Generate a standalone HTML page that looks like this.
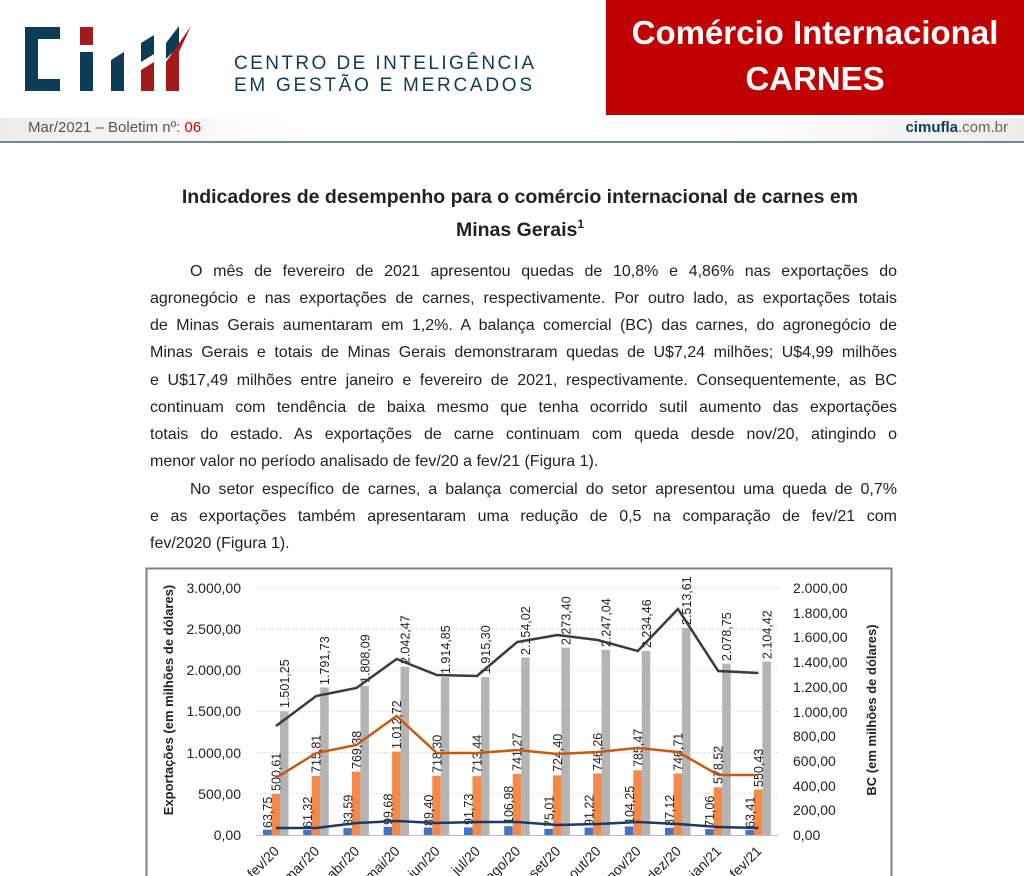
<!DOCTYPE html>
<html><head><meta charset="utf-8"><style>
body{margin:0;width:1024px;height:876px;overflow:hidden;background:#fff;position:relative;font-family:"Liberation Sans",sans-serif;}
.abs{position:absolute;}
.p{position:absolute;left:150px;width:747px;font-size:16px;color:#222;text-align:justify;text-align-last:justify;white-space:nowrap;line-height:20px;}
.last{text-align-last:left;}
</style></head><body>
<div class="abs" style="left:606px;top:0;width:418px;height:115px;background:#c00000;"></div>
<div class="abs" style="left:606px;top:10px;width:418px;text-align:center;color:#fff;font-weight:bold;font-size:33px;line-height:46px;">Comércio Internacional<br>CARNES</div>
<div class="abs" style="left:0;top:118px;width:1024px;height:23px;background:linear-gradient(90deg,#ececec,#fff 30%,#fff 70%,#ececec);"></div>
<div class="abs" style="left:0;top:141px;width:1024px;height:2px;background:#6b8a99;"></div>
<div class="abs" style="left:28px;top:119px;font-size:15px;color:#555;">Mar/2021 – Boletim nº: <span style="color:#e00000">06</span></div>
<div class="abs" style="right:16px;top:119px;font-size:15px;color:#666;"><b style="color:#0d3d56">cimufla</b>.com.br</div>
<svg class="abs" style="left:0;top:0" width="600" height="115">
<path d="M25 27h35v12h-22v40h22v12h-35z" fill="#0d3d56"/>
<rect x="80" y="27" width="13" height="18" fill="#a31a1c"/>
<rect x="80" y="52" width="13" height="39" fill="#0d3d56"/>
<path d="M111 60l13-8v39h-13z" fill="#0d3d56"/>
<path d="M141 43l13-8v19l-13 8z" fill="#0d3d56"/>
<path d="M141 70l13-8v29h-13z" fill="#a31a1c"/>
<path d="M166 43l13-17v20l-13 13z" fill="#0d3d56"/>
<path d="M166 62l25-36l-12 26v39h-13z" fill="#a31a1c"/>
<text x="234" y="69" font-size="19" fill="#0d3d56" textLength="300">CENTRO DE INTELIGÊNCIA</text>
<text x="234" y="91" font-size="19" fill="#0d3d56" textLength="298">EM GESTÃO E MERCADOS</text>
</svg>
<div class="abs" style="left:0;width:1040px;top:181px;text-align:center;font-weight:bold;font-size:19.5px;line-height:33px;color:#222;">Indicadores de desempenho para o comércio internacional de carnes em<br>Minas Gerais<span style="font-size:12px;position:relative;top:-8px;">1</span></div>
<div class="p" style="top:262px;padding-left:40px;width:707px;">O mês de fevereiro de 2021 apresentou quedas de 10,8% e 4,86% nas exportações do</div>
<div class="p" style="top:289px;">agronegócio e nas exportações de carnes, respectivamente. Por outro lado, as exportações totais</div>
<div class="p" style="top:316px;">de Minas Gerais aumentaram em 1,2%. A balança comercial (BC) das carnes, do agronegócio de</div>
<div class="p" style="top:343px;">Minas Gerais e totais de Minas Gerais demonstraram quedas de U$7,24 milhões; U$4,99 milhões</div>
<div class="p" style="top:371px;">e U$17,49 milhões entre janeiro e fevereiro de 2021, respectivamente. Consequentemente, as BC</div>
<div class="p" style="top:398px;">continuam com tendência de baixa mesmo que tenha ocorrido sutil aumento das exportações</div>
<div class="p" style="top:425px;">totais do estado. As exportações de carne continuam com queda desde nov/20, atingindo o</div>
<div class="p last" style="top:452px;">menor valor no período analisado de fev/20 a fev/21 (Figura 1).</div>
<div class="p" style="top:480px;padding-left:40px;width:707px;">No setor específico de carnes, a balança comercial do setor apresentou uma queda de 0,7%</div>
<div class="p" style="top:507px;">e as exportações também apresentaram uma redução de 0,5 na comparação de fev/21 com</div>
<div class="p last" style="top:534px;">fev/2020 (Figura 1).</div>
<svg class="abs" style="left:0;top:0" width="1024" height="876" font-family="Liberation Sans, sans-serif">
<rect x="146.5" y="568.5" width="745" height="320" fill="none" stroke="#808080" stroke-width="2"/>
<g stroke="#d9d9d9" stroke-dasharray="2,2"><line x1="256" x2="778" y1="793.8" y2="793.8"/><line x1="256" x2="778" y1="752.6" y2="752.6"/><line x1="256" x2="778" y1="711.4" y2="711.4"/><line x1="256" x2="778" y1="670.2" y2="670.2"/><line x1="256" x2="778" y1="629" y2="629"/><line x1="256" x2="778" y1="587.8" y2="587.8"/></g>
<line x1="256" x2="778" y1="835.5" y2="835.5" stroke="#bfbfbf"/>
<g font-size="14" fill="#222" text-anchor="end"><text x="241" y="840">0,00</text><text x="241" y="799">500,00</text><text x="241" y="758">1.000,00</text><text x="241" y="716">1.500,00</text><text x="241" y="675">2.000,00</text><text x="241" y="634">2.500,00</text><text x="241" y="593">3.000,00</text></g>
<g font-size="14" fill="#222"><text x="793" y="840">0,00</text><text x="793" y="815">200,00</text><text x="793" y="791">400,00</text><text x="793" y="766">600,00</text><text x="793" y="741">800,00</text><text x="793" y="717">1.000,00</text><text x="793" y="692">1.200,00</text><text x="793" y="667">1.400,00</text><text x="793" y="642">1.600,00</text><text x="793" y="618">1.800,00</text><text x="793" y="593">2.000,00</text></g>
<text transform="translate(173,700) rotate(-90)" text-anchor="middle" font-size="13" font-weight="bold" fill="#222">Exportações (em milhões de dólares)</text>
<text transform="translate(876,710) rotate(-90)" text-anchor="middle" font-size="13" font-weight="bold" fill="#222">BC (em milhões de dólares)</text>
<g fill="#4472c4">
<rect x="263" y="829.7" width="8.5" height="5.3"/><rect x="303.2" y="829.9" width="8.5" height="5.1"/><rect x="343.4" y="828.1" width="8.5" height="6.9"/><rect x="383.6" y="826.8" width="8.5" height="8.2"/><rect x="423.8" y="827.6" width="8.5" height="7.4"/><rect x="464" y="827.4" width="8.5" height="7.6"/><rect x="504.2" y="826.2" width="8.5" height="8.8"/><rect x="544.4" y="828.8" width="8.5" height="6.2"/><rect x="584.6" y="827.5" width="8.5" height="7.5"/><rect x="624.8" y="826.4" width="8.5" height="8.6"/><rect x="665" y="827.8" width="8.5" height="7.2"/><rect x="705.2" y="829.1" width="8.5" height="5.9"/><rect x="745.4" y="829.8" width="8.5" height="5.2"/></g>
<g fill="#f4894a">
<rect x="271.5" y="793.8" width="8.5" height="41.2"/><rect x="311.7" y="776" width="8.5" height="59"/><rect x="351.9" y="771.6" width="8.5" height="63.4"/><rect x="392.1" y="751.6" width="8.5" height="83.4"/><rect x="432.3" y="775.8" width="8.5" height="59.2"/><rect x="472.5" y="776.2" width="8.5" height="58.8"/><rect x="512.7" y="773.9" width="8.5" height="61.1"/><rect x="552.9" y="775.3" width="8.5" height="59.7"/><rect x="593.1" y="773.5" width="8.5" height="61.5"/><rect x="633.3" y="770.3" width="8.5" height="64.7"/><rect x="673.5" y="773.5" width="8.5" height="61.5"/><rect x="713.7" y="787.3" width="8.5" height="47.7"/><rect x="753.9" y="789.6" width="8.5" height="45.4"/></g>
<g fill="#b4b4b4">
<rect x="280" y="711.3" width="8.5" height="123.7"/><rect x="320.2" y="687.4" width="8.5" height="147.6"/><rect x="360.4" y="686" width="8.5" height="149"/><rect x="400.6" y="666.7" width="8.5" height="168.3"/><rect x="440.8" y="677.2" width="8.5" height="157.8"/><rect x="481" y="677.2" width="8.5" height="157.8"/><rect x="521.2" y="657.5" width="8.5" height="177.5"/><rect x="561.4" y="647.7" width="8.5" height="187.3"/><rect x="601.6" y="649.8" width="8.5" height="185.2"/><rect x="641.8" y="650.9" width="8.5" height="184.1"/><rect x="682" y="627.9" width="8.5" height="207.1"/><rect x="722.2" y="663.7" width="8.5" height="171.3"/><rect x="762.4" y="661.6" width="8.5" height="173.4"/></g>
<g font-size="12.5" fill="#222">
<text transform="translate(272,828) rotate(-90)">63,75</text><text transform="translate(312.2,828) rotate(-90)">61,32</text><text transform="translate(352.4,826) rotate(-90)">83,59</text><text transform="translate(392.6,825) rotate(-90)">99,68</text><text transform="translate(432.8,826) rotate(-90)">89,40</text><text transform="translate(473,825) rotate(-90)">91,73</text><text transform="translate(513.2,824) rotate(-90)">106,98</text><text transform="translate(553.4,827) rotate(-90)">75,01</text><text transform="translate(593.6,826) rotate(-90)">91,22</text><text transform="translate(633.8,824) rotate(-90)">104,25</text><text transform="translate(674,826) rotate(-90)">87,12</text><text transform="translate(714.2,827) rotate(-90)">71,06</text><text transform="translate(754.4,828) rotate(-90)">63,41</text>
<text transform="translate(280.5,791) rotate(-90)">500,61</text><text transform="translate(320.7,773) rotate(-90)">715,81</text><text transform="translate(360.9,769) rotate(-90)">769,38</text><text transform="translate(401.1,749) rotate(-90)">1.012,72</text><text transform="translate(441.3,773) rotate(-90)">718,30</text><text transform="translate(481.5,773) rotate(-90)">713,44</text><text transform="translate(521.7,771) rotate(-90)">741,27</text><text transform="translate(561.9,772) rotate(-90)">724,40</text><text transform="translate(602.1,771) rotate(-90)">746,26</text><text transform="translate(642.3,767) rotate(-90)">785,47</text><text transform="translate(682.5,771) rotate(-90)">746,71</text><text transform="translate(722.7,784) rotate(-90)">578,52</text><text transform="translate(762.9,787) rotate(-90)">550,43</text>
<text transform="translate(289,708) rotate(-90)">1.501,25</text><text transform="translate(329.2,685) rotate(-90)">1.791,73</text><text transform="translate(369.4,683) rotate(-90)">1.808,09</text><text transform="translate(409.6,664) rotate(-90)">2.042,47</text><text transform="translate(449.8,674) rotate(-90)">1.914,85</text><text transform="translate(490,674) rotate(-90)">1.915,30</text><text transform="translate(530.2,655) rotate(-90)">2.154,02</text><text transform="translate(570.4,645) rotate(-90)">2.273,40</text><text transform="translate(610.6,647) rotate(-90)">2.247,04</text><text transform="translate(650.8,648) rotate(-90)">2.234,46</text><text transform="translate(691,625) rotate(-90)">2.513,61</text><text transform="translate(731.2,661) rotate(-90)">2.078,75</text><text transform="translate(771.4,659) rotate(-90)">2.104,42</text></g>
<polyline fill="none" stroke="#3a3a3a" stroke-width="2.5" points="276,726 316.2,696 356.4,688 396.6,659 436.8,675 477,676 517.2,642 557.4,635 597.6,640 637.8,651 678,609 718.2,671 758.4,673"/>
<polyline fill="none" stroke="#c55a11" stroke-width="2.5" points="276,778 316.2,753 356.4,745 396.6,716 436.8,753 477,753 517.2,750 557.4,754 597.6,752 637.8,748 678,752 718.2,775 758.4,775"/>
<polyline fill="none" stroke="#1f3864" stroke-width="2.5" points="276,828 316.2,828 356.4,823 396.6,821 436.8,823 477,822 517.2,822 557.4,825 597.6,824 637.8,822 678,824 718.2,827 758.4,828"/>
<g font-size="14" fill="#222" text-anchor="end">
<text transform="translate(280,852) rotate(-45)">fev/20</text><text transform="translate(320.2,852) rotate(-45)">mar/20</text><text transform="translate(360.4,852) rotate(-45)">abr/20</text><text transform="translate(400.6,852) rotate(-45)">mai/20</text><text transform="translate(440.8,852) rotate(-45)">jun/20</text><text transform="translate(481,852) rotate(-45)">jul/20</text><text transform="translate(521.2,852) rotate(-45)">ago/20</text><text transform="translate(561.4,852) rotate(-45)">set/20</text><text transform="translate(601.6,852) rotate(-45)">out/20</text><text transform="translate(641.8,852) rotate(-45)">nov/20</text><text transform="translate(682,852) rotate(-45)">dez/20</text><text transform="translate(722.2,852) rotate(-45)">jan/21</text><text transform="translate(762.4,852) rotate(-45)">fev/21</text></g>
</svg>
</body></html>
